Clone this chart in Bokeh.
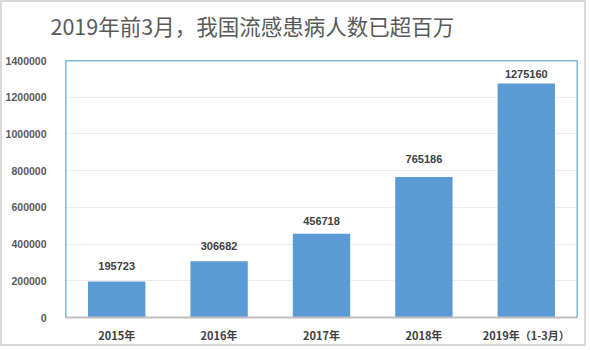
from bokeh.plotting import figure
from bokeh.models import (ColumnDataSource, LabelSet, Span, FixedTicker,
                          Range1d, FactorRange, Title)
from bokeh.core.properties import value
from bokeh.embed import file_html
from bokeh.resources import INLINE

# ---- data ----
categories = ["2015年", "2016年", "2017年", "2018年", "2019年（1-3月）"]
cases = [195723, 306682, 456718, 765186, 1275160]
y_ticks = [0, 200000, 400000, 600000, 800000, 1000000, 1200000, 1400000]
title_text = "2019年前3月，我国流感患病人数已超百万"

# label vertical offsets (px), layout only
label_dy = [12, 11, 9, 14, 5]

src = ColumnDataSource(dict(cat=categories, val=cases,
                            txt=[str(v) for v in cases], dy=label_dy))

p = figure(width=586, height=346, x_range=FactorRange(*categories),
           y_range=Range1d(0, y_ticks[-1]), output_backend="svg",
           toolbar_location=None, title=None,
           min_border_left=63, min_border_right=11,
           min_border_top=58, min_border_bottom=31)
p.background_fill_color = "white"
p.border_fill_color = "white"
p.outline_line_color = None
p.styles = {"border": "2px solid #d9d9d9"}

# spacer panel nearest the frame, then the real title above it
p.add_layout(Title(text=" ", text_font_size="3px", standoff=10), "above")
p.add_layout(Title(text=title_text, align="left", offset=-15,
                   text_font="Noto Sans CJK SC", text_font_size="21.5px",
                   text_font_style="normal", text_color="#595959"), "above")

p.vbar(x="cat", top="val", width=0.56, source=src, color="#5b9bd5", line_color=None)

# grid
p.xgrid.grid_line_color = None
p.ygrid.grid_line_color = "#ececec"
p.ygrid.ticker = FixedTicker(ticks=y_ticks)

# y axis
p.yaxis.ticker = FixedTicker(ticks=y_ticks)
p.yaxis.axis_line_color = None
p.yaxis.major_tick_line_color = None
p.yaxis.minor_tick_line_color = None
p.yaxis.major_label_standoff = 13
p.yaxis.major_label_text_font = "Liberation Sans"
p.yaxis.major_label_text_font_size = "10.5px"
p.yaxis.major_label_text_font_style = "bold"
p.yaxis.major_label_text_color = "#595959"
p.yaxis.formatter.use_scientific = False

# x axis
p.xaxis.axis_line_color = "#bfbfbf"
p.xaxis.axis_line_width = 2
p.xaxis.major_tick_line_color = None
p.xaxis.minor_tick_line_color = None
p.xaxis.major_label_standoff = 3
p.xaxis.major_label_text_font = "Noto Sans CJK SC"
p.xaxis.major_label_text_font_size = "11px"
p.xaxis.major_label_text_font_style = "bold"
p.xaxis.major_label_text_color = "#404040"

# blue plot-area border (left, right, top)
p.add_layout(Span(location=0, dimension="height", line_color="#0070c0", line_width=1.5))
p.add_layout(Span(location=len(categories), dimension="height", line_color="#0070c0", line_width=1.5))
p.add_layout(Span(location=y_ticks[-1], dimension="width", line_color="#0070c0", line_width=1.5))

# data labels
labels = LabelSet(x="cat", y="val", text="txt", source=src, y_offset="dy",
                  text_align="center", text_baseline="bottom",
                  text_font=value("Liberation Sans"), text_font_size="11px",
                  text_font_style="bold", text_color="#404040")
p.add_layout(labels)

open("out.html", "w").write(file_html(p, INLINE))
